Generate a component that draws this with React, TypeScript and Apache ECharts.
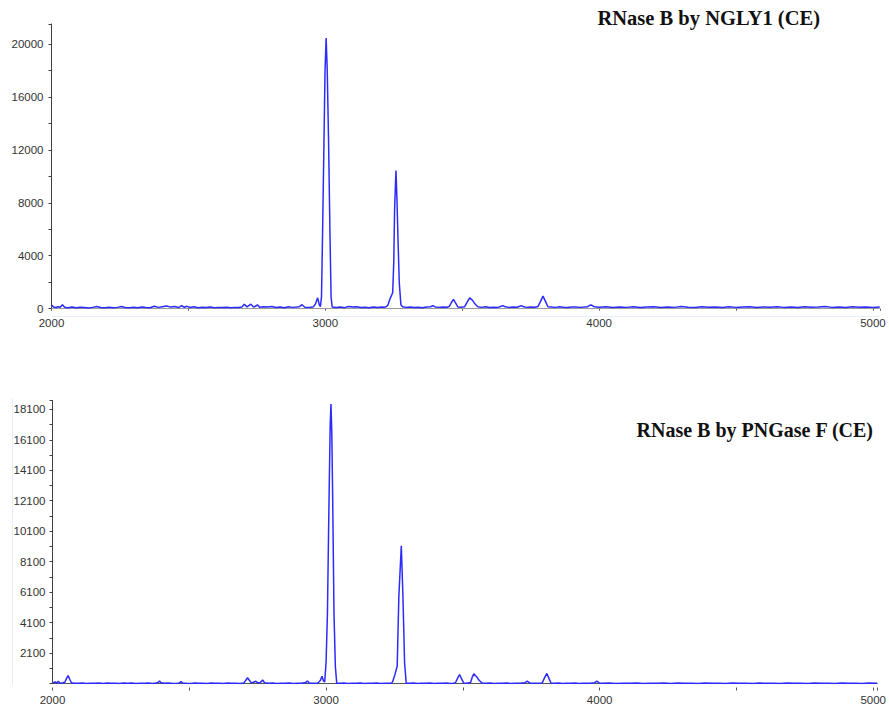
import React, { useEffect, useRef } from "react";
import * as echarts from "echarts";

// ---- Data (m/z, intensity) ----
const titleTop = "RNase B by NGLY1 (CE)";
const titleBottom = "RNase B by PNGase F (CE)";

const ngly1Spectrum: [number, number][] = [
  [2000, 280], [2008, 120], [2016, 90], [2024, 150], [2032, 110], [2040, 300], [2048, 110], [2060, 80],
  [2075, 120], [2090, 70], [2105, 110], [2120, 90], [2135, 60], [2150, 100], [2165, 170], [2180, 90],
  [2195, 70], [2210, 110], [2225, 80], [2240, 100], [2255, 160], [2270, 90], [2285, 70], [2300, 110],
  [2315, 80], [2330, 130], [2345, 90], [2360, 70], [2375, 190], [2390, 100], [2405, 150], [2420, 200],
  [2435, 120], [2450, 160], [2465, 90], [2475, 240], [2485, 110], [2495, 180], [2505, 90], [2520, 140],
  [2535, 80], [2550, 110], [2565, 90], [2580, 120], [2595, 80], [2610, 100], [2625, 90], [2640, 110],
  [2655, 80], [2670, 100], [2685, 90], [2695, 130], [2704, 330], [2714, 140], [2728, 340], [2738, 130],
  [2745, 180], [2752, 300], [2760, 110], [2775, 150], [2790, 130], [2805, 160], [2820, 90], [2835, 130],
  [2850, 80], [2865, 140], [2880, 100], [2895, 120], [2905, 150], [2915, 300], [2925, 110], [2940, 90],
  [2955, 120], [2964, 350], [2972, 820], [2978, 300], [2982, 150], [2986, 900], [2990, 5700], [2995, 12500],
  [2999, 18000], [3003, 20450], [3007, 18000], [3012, 12500], [3017, 5700], [3021, 900], [3025, 120],
  [3040, 90], [3055, 130], [3070, 80], [3085, 160], [3100, 120], [3115, 150], [3130, 90], [3145, 110],
  [3160, 80], [3175, 120], [3190, 90], [3205, 130], [3215, 110], [3222, 150], [3228, 250], [3237, 780],
  [3246, 1200], [3250, 3500], [3253, 7500], [3258, 10430], [3262, 8000], [3265, 5600], [3270, 2000],
  [3276, 300], [3282, 150], [3295, 100], [3310, 130], [3325, 90], [3340, 110], [3355, 80], [3370, 120],
  [3385, 150], [3393, 230], [3401, 130], [3415, 100], [3430, 120], [3445, 110], [3453, 180], [3460, 450],
  [3468, 700], [3476, 420], [3484, 130], [3495, 110], [3509, 150], [3518, 500], [3527, 820], [3537, 650],
  [3547, 350], [3557, 150], [3570, 100], [3585, 140], [3600, 90], [3615, 110], [3630, 100], [3642, 180],
  [3649, 230], [3657, 140], [3670, 100], [3685, 120], [3700, 110], [3710, 180], [3716, 230], [3722, 160],
  [3735, 100], [3750, 120], [3765, 110], [3777, 170], [3786, 550], [3795, 950], [3804, 550], [3813, 150],
  [3825, 130], [3840, 100], [3855, 140], [3870, 110], [3885, 90], [3900, 120], [3915, 130], [3930, 100],
  [3945, 120], [3958, 150], [3966, 260], [3972, 280], [3979, 170], [3990, 120], [4000, 110], [4025, 140],
  [4050, 90], [4075, 130], [4100, 100], [4125, 150], [4150, 90], [4175, 120], [4200, 140], [4225, 90],
  [4250, 130], [4275, 100], [4300, 160], [4325, 110], [4350, 90], [4375, 140], [4400, 110], [4425, 130],
  [4450, 90], [4475, 150], [4500, 100], [4525, 120], [4550, 140], [4575, 90], [4600, 130], [4625, 110],
  [4650, 150], [4675, 100], [4700, 120], [4725, 90], [4750, 140], [4775, 110], [4800, 130], [4825, 160],
  [4850, 100], [4875, 120], [4900, 90], [4925, 140], [4950, 110], [4975, 130], [5000, 100], [5025, 120],
];

const pngaseSpectrum: [number, number][] = [
  [2000, 140], [2010, 200], [2016, 130], [2021, 250], [2028, 120], [2038, 150], [2045, 180], [2051, 420],
  [2057, 620], [2063, 380], [2069, 150], [2080, 120], [2095, 110], [2110, 130], [2125, 105], [2140, 120],
  [2155, 110], [2170, 125], [2185, 105], [2200, 130], [2215, 110], [2230, 120], [2245, 105], [2260, 125],
  [2275, 110], [2290, 130], [2305, 105], [2320, 120], [2335, 110], [2350, 125], [2365, 105], [2378, 130],
  [2385, 160], [2391, 260], [2397, 150], [2410, 110], [2425, 125], [2440, 105], [2455, 120], [2464, 140],
  [2470, 220], [2476, 130], [2490, 115], [2505, 105], [2520, 125], [2535, 110], [2550, 120], [2565, 105],
  [2580, 125], [2595, 110], [2610, 120], [2625, 105], [2640, 130], [2655, 110], [2670, 120], [2685, 105],
  [2700, 140], [2706, 300], [2713, 480], [2720, 300], [2727, 140], [2735, 180], [2743, 250], [2750, 140],
  [2760, 170], [2768, 330], [2775, 150], [2790, 115], [2805, 125], [2820, 105], [2835, 120], [2850, 110],
  [2865, 125], [2880, 105], [2895, 120], [2910, 110], [2925, 160], [2932, 260], [2940, 120], [2955, 110],
  [2970, 130], [2979, 300], [2985, 580], [2991, 250], [2995, 200], [3000, 1500], [3005, 4700], [3011, 12400],
  [3015, 17000], [3018, 18450], [3021, 16500], [3024, 12500], [3029, 4700], [3034, 1200], [3039, 120],
  [3050, 110], [3065, 125], [3080, 105], [3095, 120], [3110, 110], [3125, 130], [3140, 105], [3155, 120],
  [3170, 110], [3185, 125], [3200, 105], [3215, 120], [3230, 115], [3238, 120], [3243, 200], [3252, 700],
  [3260, 1250], [3266, 5800], [3275, 9140], [3281, 5800], [3287, 1450], [3293, 120], [3305, 110],
  [3320, 125], [3335, 105], [3350, 120], [3365, 110], [3380, 125], [3395, 105], [3410, 120], [3425, 110],
  [3440, 125], [3455, 105], [3465, 120], [3473, 150], [3481, 450], [3488, 690], [3495, 420], [3503, 130],
  [3515, 110], [3528, 160], [3534, 500], [3540, 740], [3550, 550], [3560, 300], [3570, 140], [3585, 110],
  [3600, 125], [3615, 105], [3630, 120], [3645, 110], [3660, 125], [3675, 105], [3690, 120], [3705, 110],
  [3718, 125], [3725, 130], [3735, 250], [3745, 140], [3760, 110], [3775, 120], [3790, 140], [3798, 450],
  [3807, 760], [3815, 420], [3822, 130], [3835, 110], [3850, 125], [3865, 105], [3880, 120], [3895, 110],
  [3910, 125], [3925, 105], [3940, 120], [3955, 110], [3970, 125], [3982, 150], [3990, 250], [3998, 140],
  [4010, 110], [4035, 125], [4060, 105], [4085, 120], [4110, 110], [4135, 130], [4160, 105], [4185, 120],
  [4210, 110], [4235, 125], [4260, 105], [4285, 130], [4310, 110], [4335, 120], [4360, 105], [4385, 125],
  [4410, 110], [4435, 120], [4460, 105], [4485, 130], [4510, 110], [4535, 120], [4560, 105], [4585, 125],
  [4610, 110], [4635, 120], [4660, 105], [4685, 130], [4710, 110], [4735, 120], [4760, 105], [4785, 125],
  [4810, 110], [4835, 120], [4860, 105], [4885, 130], [4910, 110], [4935, 120], [4960, 105], [4985, 125],
  [5015, 110],
];

const LABEL_FONT = '"Liberation Sans", Arial, sans-serif';
const LABEL_COLOR = "#333333";
const LINE_COLOR = "#2b2bff";

export default function App() {
  const ref = useRef<HTMLDivElement>(null);

  useEffect(() => {
    document.body.style.margin = "0";
    if (!ref.current) return;
    const chart = echarts.init(ref.current, undefined, { renderer: "svg" });

    const xLabelFmt = (v: number) => (v % 1000 === 0 ? String(v) : "");

    const option: any = {
      animation: false,
      backgroundColor: "#ffffff",
      grid: [
        { left: 51.5, right: 9.2, top: 24, height: 284.7 },
        { left: 52.5, right: 9.2, top: 400.5, height: 283 },
      ],
      xAxis: [
        {
          type: "value",
          gridIndex: 0,
          min: 2000,
          max: 5025,
          interval: 500,
          offset: 3,
          axisLine: { show: false },
          axisTick: { show: true, length: 2, lineStyle: { color: "#555", width: 1 } },
          axisLabel: {
            formatter: xLabelFmt,
            margin: 5,
            fontFamily: LABEL_FONT,
            fontSize: 11.5,
            color: LABEL_COLOR,
          },
          splitLine: { show: false },
        },
        {
          type: "value",
          gridIndex: 1,
          min: 2000,
          max: 5015,
          interval: 500,
          offset: 4,
          axisLine: { show: false },
          axisTick: { show: true, length: 3, lineStyle: { color: "#555", width: 1 } },
          axisLabel: {
            formatter: xLabelFmt,
            margin: 6,
            fontFamily: LABEL_FONT,
            fontSize: 11.5,
            color: LABEL_COLOR,
          },
          splitLine: { show: false },
        },
      ],
      yAxis: [
        {
          type: "value",
          gridIndex: 0,
          min: 0,
          max: 21500,
          interval: 2000,
          axisLine: { show: true, lineStyle: { color: "#404040", width: 1 } },
          axisTick: { show: true, length: 3, lineStyle: { color: "#404040" } },
          axisLabel: {
            formatter: (v: number) => (v % 4000 === 0 ? String(v) : ""),
            margin: 8,
            fontFamily: LABEL_FONT,
            fontSize: 11.5,
            color: LABEL_COLOR,
          },
          splitLine: { show: false },
        },
        {
          type: "value",
          gridIndex: 1,
          min: 100,
          max: 18680,
          interval: 1000,
          axisLine: { show: true, lineStyle: { color: "#404040", width: 1 } },
          axisTick: { show: true, length: 3, lineStyle: { color: "#404040" } },
          axisLabel: {
            formatter: (v: number) => ((v - 100) % 2000 === 0 && v !== 100 ? String(v) : ""),
            margin: 7,
            fontFamily: LABEL_FONT,
            fontSize: 11.5,
            color: LABEL_COLOR,
          },
          splitLine: { show: false },
        },
      ],
      series: [
        {
          type: "line",
          xAxisIndex: 0,
          yAxisIndex: 0,
          data: ngly1Spectrum,
          showSymbol: false,
          symbol: "none",
          lineStyle: { color: LINE_COLOR, width: 1.5 },
          z: 3,
          markLine: {
            silent: true,
            symbol: "none",
            label: { show: false },
            lineStyle: { color: "#9a9a9a", width: 1.2, type: "solid" },
            data: [{ yAxis: 0 }],
            z: 1,
          },
        },
        {
          type: "line",
          xAxisIndex: 1,
          yAxisIndex: 1,
          data: pngaseSpectrum,
          showSymbol: false,
          symbol: "none",
          lineStyle: { color: LINE_COLOR, width: 1.5 },
          z: 3,
          markLine: {
            silent: true,
            symbol: "none",
            label: { show: false },
            lineStyle: { color: "#555555", width: 1.2, type: "solid" },
            data: [{ yAxis: 100 }],
            z: 1,
          },
        },
      ],
      graphic: [
        {
          type: "line",
          silent: true,
          shape: { x1: 52, y1: 316.5, x2: 880, y2: 316.5 },
          style: { stroke: "#e8eef8", lineWidth: 1 },
        },
        {
          type: "line",
          silent: true,
          shape: { x1: 12.5, y1: 398, x2: 12.5, y2: 685 },
          style: { stroke: "#e8eef8", lineWidth: 1 },
        },
        {
          type: "text",
          x: 820,
          y: 18,
          style: {
            text: titleTop,
            font: 'bold 20.5px "Liberation Serif", "Times New Roman", serif',
            fill: "#111",
            textAlign: "right",
            textVerticalAlign: "middle",
          },
        },
        {
          type: "text",
          x: 873,
          y: 430,
          style: {
            text: titleBottom,
            font: 'bold 20px "Liberation Serif", "Times New Roman", serif',
            fill: "#111",
            textAlign: "right",
            textVerticalAlign: "middle",
          },
        },
      ],
    };

    chart.setOption(option);
    return () => {
      chart.dispose();
    };
  }, []);

  return (
    <div
      ref={ref}
      style={{ position: "absolute", left: 0, top: 0, width: 889, height: 708, background: "#fff" }}
    />
  );
}
